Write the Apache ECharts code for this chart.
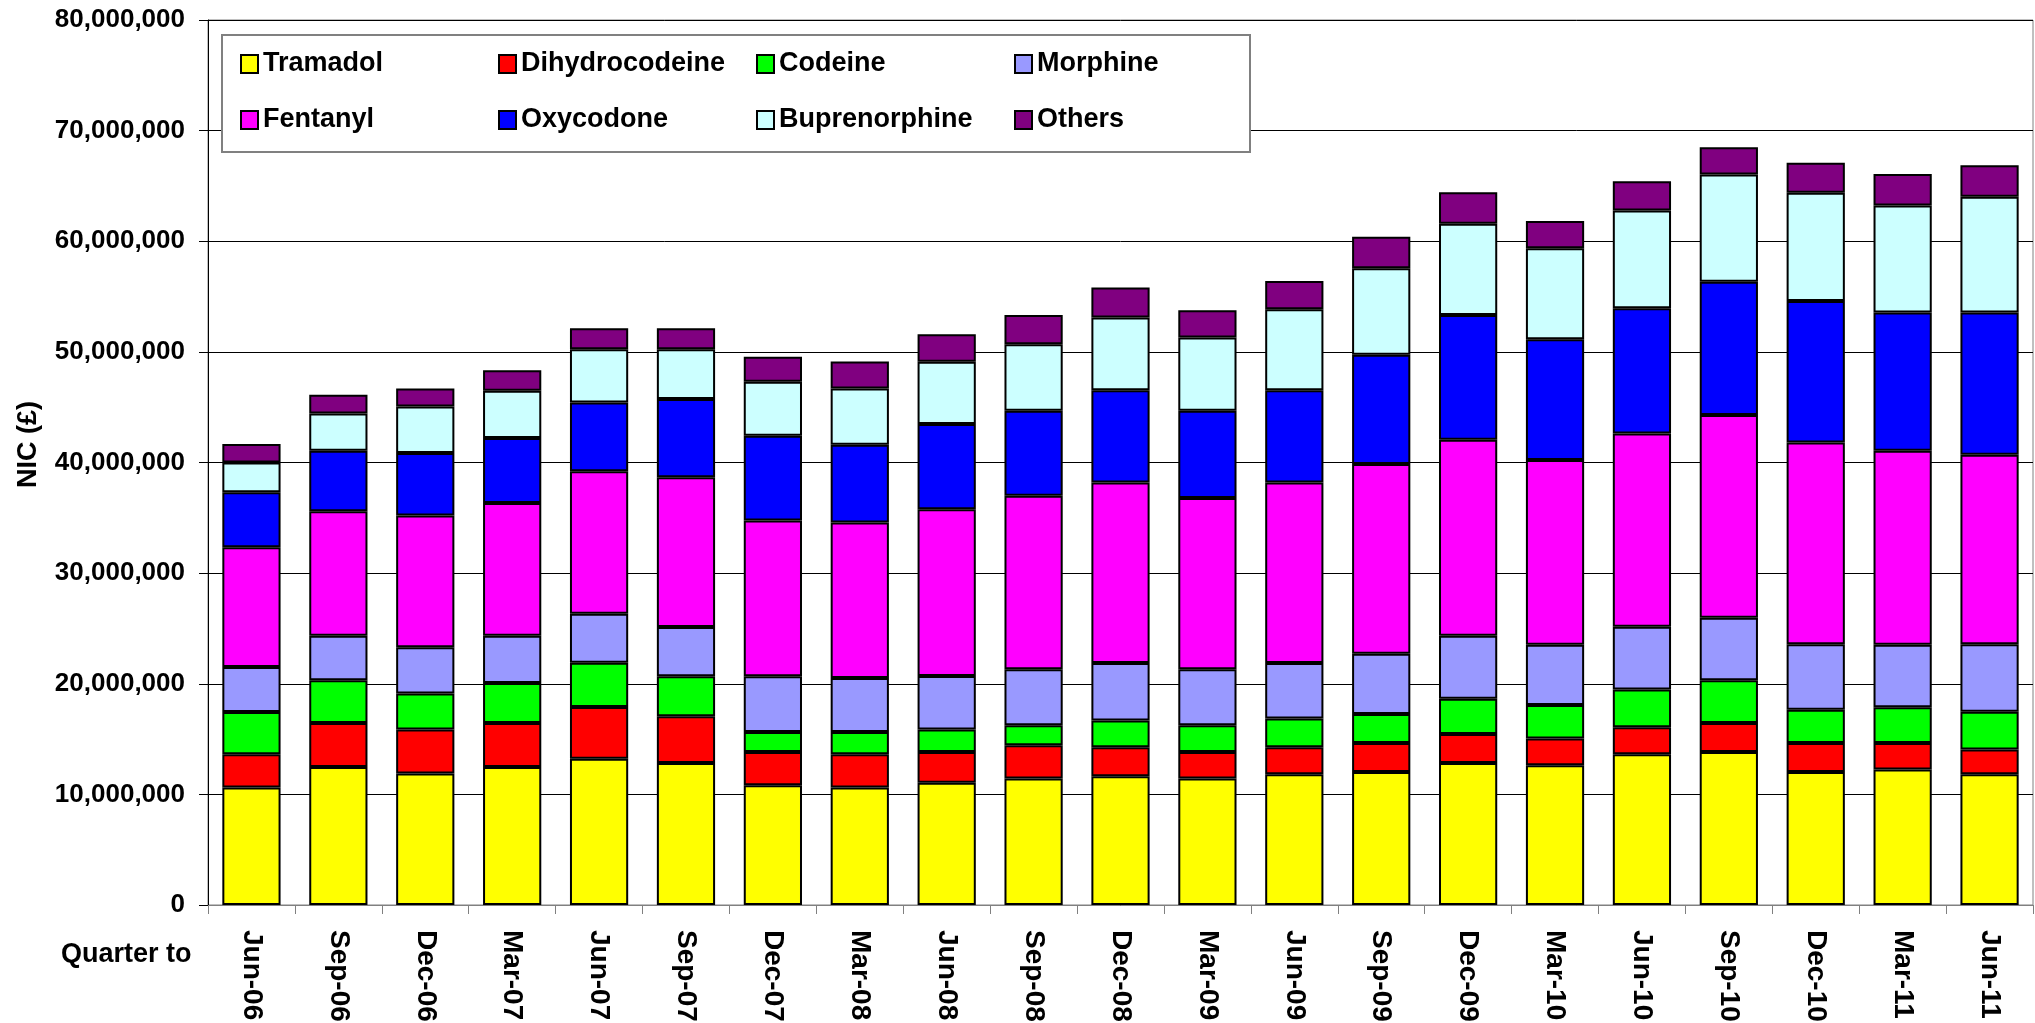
<!DOCTYPE html>
<html>
<head>
<meta charset="utf-8">
<script src="https://cdn.jsdelivr.net/npm/echarts@6/dist/echarts.min.js"></script>
<style>html,body{margin:0;padding:0;background:#fff}#c{width:2035px;height:1023px}</style>
</head>
<body>
<div id="c"></div>
<script>
var categories = ['Jun-06','Sep-06','Dec-06','Mar-07','Jun-07','Sep-07','Dec-07','Mar-08','Jun-08','Sep-08','Dec-08','Mar-09','Jun-09','Sep-09','Dec-09','Mar-10','Jun-10','Sep-10','Dec-10','Mar-11','Jun-11'];
var tramadol = [10620000,12480000,11890000,12480000,13210000,12840000,10830000,10620000,11040000,11430000,11640000,11430000,11820000,12030000,12840000,12640000,13630000,13840000,12030000,12250000,11820000];
var dihydrocodeine = [3010000,3970000,3970000,3970000,4690000,4220000,3010000,3010000,2800000,3010000,2620000,2410000,2440000,2620000,2620000,2400000,2430000,2610000,2620000,2400000,2230000];
var codeine = [3820000,3860000,3250000,3620000,4000000,3610000,1800000,2010000,2020000,1810000,2410000,2410000,2590000,2620000,3190000,3040000,3430000,3860000,3010000,3220000,3430000];
var morphine = [4060000,4030000,4200000,4270000,4420000,4450000,5030000,4870000,4840000,5050000,5200000,5050000,5020000,5440000,5690000,5450000,5660000,5660000,5900000,5660000,6080000];
var fentanyl = [10830000,11250000,11890000,12000000,12880000,13540000,14080000,14060000,15070000,15700000,16330000,15500000,16330000,17150000,17720000,16690000,17480000,18320000,18250000,17540000,17140000];
var oxycodone = [4960000,5480000,5660000,5870000,6230000,7070000,7670000,7040000,7700000,7680000,8340000,7880000,8340000,9870000,11280000,10920000,11310000,12060000,12790000,12480000,12850000];
var buprenorphine = [2710000,3360000,4210000,4270000,4810000,4510000,4870000,5080000,5630000,6010000,6560000,6610000,7310000,7820000,8240000,8220000,8850000,9690000,9780000,9690000,10470000];
var others = [1660000,1690000,1620000,1870000,1900000,1900000,2260000,2440000,2500000,2650000,2710000,2470000,2560000,2860000,2860000,2460000,2640000,2460000,2710000,2850000,2860000];
var seriesNames = ['Tramadol','Dihydrocodeine','Codeine','Morphine','Fentanyl','Oxycodone','Buprenorphine','Others'];
var seriesColors = ['#FFFF00','#FF0000','#00FF00','#9999FF','#FF00FF','#0000FF','#CCFFFF','#800080'];
var seriesData = [tramadol, dihydrocodeine, codeine, morphine, fentanyl, oxycodone, buprenorphine, others];
var yMin = 0, yMax = 80000000, yStep = 10000000;

var FONT = 'Liberation Sans, Arial, sans-serif';
var chart = echarts.init(document.getElementById('c'));
var series = seriesNames.map(function (n, i) {
  return {
    name: n, type: 'bar', stack: 'total', data: seriesData[i], barWidth: '67%',
    itemStyle: { color: seriesColors[i], borderColor: '#000', borderWidth: 2 },
    emphasis: { disabled: true }
  };
});
function legendRow(names, top) {
  return {
    data: names, left: 240, top: top, orient: 'horizontal', itemGap: 0, padding: 0,
    itemWidth: 17, itemHeight: 18, icon: 'rect', selectedMode: false,
    textStyle: { fontFamily: FONT, fontSize: 27, fontWeight: 'bold', color: '#000', width: 235, lineHeight: 30 }
  };
}
chart.setOption({
  animation: false,
  backgroundColor: '#fff',
  title: { text: 'Quarter to', left: 61, top: 941, padding: 0,
    textStyle: { fontFamily: FONT, fontSize: 27, fontWeight: 'bold', color: '#000' } },
  legend: [legendRow(seriesNames.slice(0, 4), 49), legendRow(seriesNames.slice(4), 105)],
  graphic: [{ type: 'rect', left: 221, top: 34, z: 3, shape: { width: 1028, height: 117 },
    style: { fill: '#fff', stroke: '#808080', lineWidth: 2 } }],
  grid: { left: 208, right: 2, top: 20, bottom: 118, show: true, borderColor: '#808080', borderWidth: 1,
    containLabel: false, outerBoundsMode: 'none' },
  xAxis: {
    type: 'category', data: categories,
    axisLine: { lineStyle: { color: '#808080', width: 1 } },
    axisTick: { show: true, length: 9, alignWithLabel: false, interval: 0, lineStyle: { color: '#808080' } },
    axisLabel: { interval: 0, rotate: -90, margin: 25, fontFamily: FONT, fontSize: 28, fontWeight: 'bold', color: '#000' }
  },
  yAxis: {
    type: 'value', min: yMin, max: yMax, interval: yStep,
    name: 'NIC (£)', nameLocation: 'middle', nameRotate: 90, nameGap: 166,
    nameTextStyle: { fontFamily: FONT, fontSize: 27, fontWeight: 'bold', color: '#000', padding: [0, 0, 0, 36] },
    axisLine: { show: true, lineStyle: { color: '#000', width: 1 } },
    axisTick: { show: true, length: 9, lineStyle: { color: '#000' } },
    splitLine: { show: true, lineStyle: { color: '#000', width: 1 } },
    axisLabel: { margin: 23, fontFamily: FONT, fontSize: 26, fontWeight: 'bold', color: '#000',
      formatter: function (v) { return v.toLocaleString('en-US'); } }
  },
  series: series
});
</script>
</body>
</html>
